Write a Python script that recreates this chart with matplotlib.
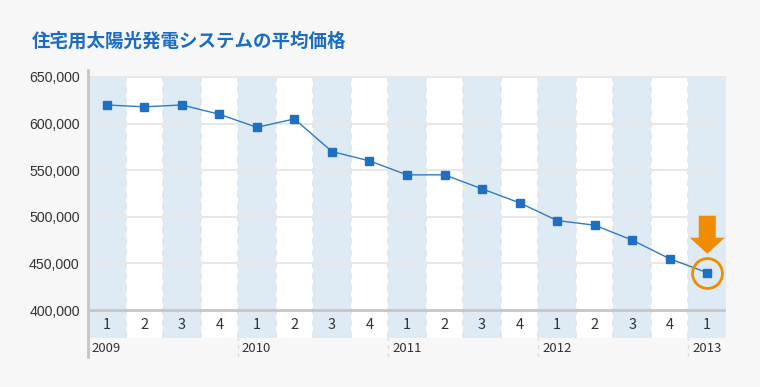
import matplotlib
matplotlib.use("Agg")
import matplotlib.pyplot as plt
import matplotlib.transforms as mtransforms
from matplotlib.patches import Polygon

title = "住宅用太陽光発電システムの平均価格"
quarters = ["1", "2", "3", "4", "1", "2", "3", "4", "1", "2", "3", "4",
            "1", "2", "3", "4", "1"]
years = ["2009", "2010", "2011", "2012", "2013"]
prices = [620000, 618000, 620000, 610000, 596000, 605000, 570000, 560000,
          545000, 545000, 530000, 515000, 496000, 491000, 475000, 455000, 440000]
yticks = [400000, 450000, 500000, 550000, 600000, 650000]

W, H = 760, 387
fig = plt.figure(figsize=(W / 100, H / 100), dpi=100, facecolor="#f7f7f7")

# axes spans pixel rows 70..357, columns 88..726
ax_top_px, ax_bot_px = 70, 357
ax = fig.add_axes([88 / W, (H - ax_bot_px) / H, (726 - 88) / W, (ax_bot_px - ax_top_px) / H])
ax.set_facecolor("none")
per_px = 250000 / (310 - 77)
ymax = 650000 + (77 - ax_top_px) * per_px
ymin = 400000 - (ax_bot_px - 310) * per_px
cat_bottom = 400000 - (338 - 310) * per_px
n = len(quarters)
xs = list(range(n))
ax.set_xlim(-0.5, n - 0.5)
ax.set_ylim(ymin, ymax)

# white plot area + category row
ax.bar(n / 2 - 0.5, 650000 - cat_bottom, bottom=cat_bottom, width=n, color="white",
       zorder=0, align="center")
# light blue bands for odd quarters
band_x = [i for i in xs if i % 2 == 0]
ax.bar(band_x, [650000 - cat_bottom] * len(band_x), bottom=cat_bottom, width=1,
       color="#dfebf4", zorder=0.5)
# dashed separators
for i in range(1, n):
    ax.plot([i - 0.5, i - 0.5], [cat_bottom, 650000], color="#e0e5eb", lw=1.2,
            ls=(0, (4, 3)), zorder=0.6)
# year separators in year row
for k in range(1, len(years)):
    xb = k * 4 - 0.5
    ax.plot([xb, xb], [ymin, cat_bottom], color="#dcdcdc", lw=1, ls=(0, (3, 3)), zorder=0.6)

# gridlines
for v in yticks[1:]:
    ax.plot([-0.5, n - 0.5], [v, v], color="#e8e8e8", lw=1.5, zorder=1)
ax.plot([-0.5, n - 0.5], [400000, 400000], color="#c6c6c6", lw=2, zorder=2)

# series
ax.plot(xs, prices, color="#2c7cc6", lw=1, marker="s", ms=5.5,
        markerfacecolor="#1f70c2", markeredgecolor="#1f70c2", zorder=4)

# highlight last point
lx, ly = xs[-1], prices[-1]
ax.plot([lx], [ly], marker="o", ms=21.5, mfc="none", mec="#f08c00", mew=2, zorder=5)
trans = mtransforms.Affine2D() + mtransforms.ScaledTranslation(lx, ly, ax.transData)
arrow = Polygon([(-8.5, 57), (8.5, 57), (8.5, 35), (17.5, 35), (0, 19),
                 (-17.5, 35), (-8.5, 35)], closed=True, transform=trans,
                color="#f08c00", zorder=6, lw=0)
ax.add_patch(arrow)

# y ticks
ax.set_yticks(yticks)
ax.set_yticklabels([f"{v:,}" for v in yticks], fontsize=10.2, color="#333333",
                   family=["Liberation Sans", "DejaVu Sans"])
ax.tick_params(axis="y", length=0, pad=6)
ax.set_xticks([])

# category labels
cat_y = 400000 - (325 - 310) * per_px
for i, q in enumerate(quarters):
    ax.text(i, cat_y, q, ha="center", va="center", fontsize=10.5, color="#333333",
            family=["Noto Sans CJK JP", "DejaVu Sans"])
year_y = 400000 - (349 - 310) * per_px
for k, yr in enumerate(years):
    ax.text(k * 4 - 0.5 + 0.1, year_y, yr, ha="left", va="center", fontsize=9.5,
            color="#333333", family=["Noto Sans CJK JP", "DejaVu Sans"])

for s in ["top", "right", "bottom"]:
    ax.spines[s].set_visible(False)
ax.spines["left"].set_color("#c6c6c6")
ax.spines["left"].set_linewidth(2)

fig.text(32 / W, 1 - 41 / H, title, fontsize=13.3, fontweight="bold", color="#1a6cc4",
         ha="left", va="center", family=["Noto Sans CJK JP", "DejaVu Sans"])

fig.savefig("out.png", dpi=100, facecolor=fig.get_facecolor())
